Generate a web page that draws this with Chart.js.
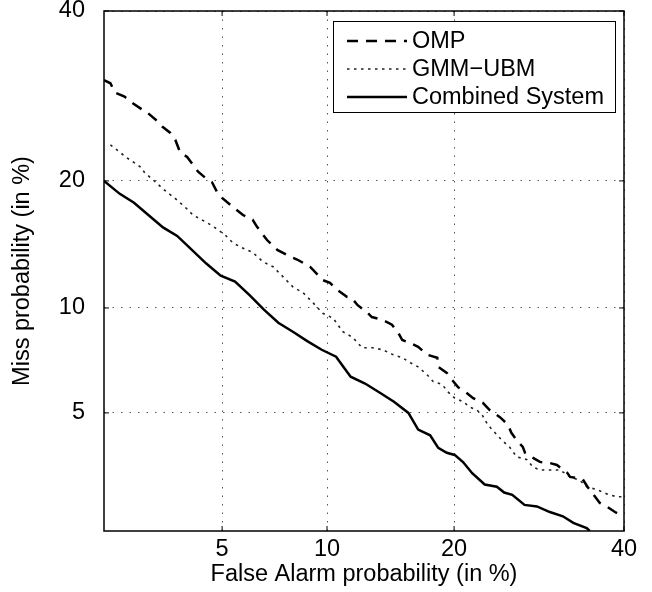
<!DOCTYPE html>
<html lang="en">
<head>
<meta charset="UTF-8">
<title>DET curves</title>
<style>
  body { margin: 0; background: #fff; }
  #det { display: block; }
</style>
<script src="https://cdn.jsdelivr.net/npm/chart.js"></script>
</head>
<body>
<canvas id="det" width="652" height="592"></canvas>
<script>
// tick values, in %
const xTicks = [5, 10, 20, 40];
const yTicks = [5, 10, 20, 40];

// OMP (dashed)
const ompFA = [2.0, 2.11, 2.19, 2.37, 2.52, 2.75, 2.86, 3.1, 3.2, 3.4, 3.54, 3.67, 3.87, 4.01, 4.2, 4.43, 4.65, 4.82, 4.99,
  5.4, 5.79, 6.19, 6.37, 6.82, 7.3, 7.93, 8.3, 9.0, 9.18, 9.74, 10.18, 10.62, 11.26, 11.58, 11.99, 12.65, 13.0, 13.81,
  14.53, 15.03, 15.36, 16.04, 16.7, 17.48, 18.41, 18.5, 19.3, 19.77, 20.4, 21.1, 21.9, 22.9, 23.6, 24.7, 25.6, 26.0,
  26.6, 27.3, 27.55, 28.7, 29.3, 30.5, 31.36, 32.64, 33.0, 34.6, 35.2, 36.8, 37.7, 38.8, 40.0];
const ompMiss = [31.1, 30.73, 29.6, 29.12, 28.4, 27.55, 27.2, 26.2, 25.67, 25.0, 24.2, 22.9, 22.4, 21.76, 20.9, 20.3, 19.87, 18.95, 18.41,
  17.57, 16.86, 16.45, 15.87, 14.77, 14.0, 13.5, 13.27, 12.74, 12.51, 11.8, 11.61, 11.15, 10.69, 10.62, 10.17, 9.74, 9.46, 9.29,
  9.02, 8.58, 8.19, 8.03, 7.84, 7.45, 7.3, 6.87, 6.6, 6.31, 5.98, 5.8, 5.55, 5.37, 5.11, 4.86, 4.6, 4.33,
  4.1, 3.9, 3.73, 3.56, 3.48, 3.45, 3.4, 3.2, 3.1, 3.04, 2.87, 2.52, 2.45, 2.34, 2.25];

// GMM-UBM (dotted)
const gmmFA = [2.11, 2.28, 2.42, 2.54, 2.69, 2.79, 2.98, 3.2, 3.33, 3.59, 3.9, 4.04, 4.49, 4.75, 5.1, 5.4, 5.75, 6.19, 6.64,
  7.1, 7.6, 8.08, 8.63, 9.18, 9.74, 10.37, 11.0, 11.65, 12.3, 13.07, 13.81, 14.61, 15.37, 16.04, 16.7, 17.48, 18.04,
  18.86, 19.4, 20.07, 20.9, 21.6, 22.27, 22.88, 23.4, 24.2, 24.94, 25.78, 26.6, 27.78, 28.47, 29.3, 31.75, 33.0,
  34.2, 35.1, 36.45, 37.7, 39.0, 40.0];
const gmmMiss = [23.67, 22.9, 22.3, 21.9, 21.4, 20.8, 20.1, 19.3, 18.9, 18.2, 17.3, 16.86, 16.2, 15.78, 15.2, 14.54, 14.17, 13.8, 13.1,
  12.74, 12.0, 11.34, 10.95, 10.31, 9.68, 9.4, 8.63, 8.33, 7.79, 7.79, 7.69, 7.45, 7.3, 7.06, 6.87, 6.52, 6.22,
  6.1, 5.8, 5.55, 5.41, 5.2, 5.11, 4.9, 4.6, 4.33, 4.1, 3.9, 3.62, 3.54, 3.35, 3.27, 3.27, 3.1,
  3.02, 2.87, 2.8, 2.71, 2.65, 2.65];

// Combined System (solid)
const combFA = [2.0, 2.28, 2.56, 2.87, 3.22, 3.59, 4.01, 4.46, 4.95, 5.48, 6.06, 6.68, 7.35, 8.08, 8.85, 9.68, 10.56, 11.51,
  12.51, 13.57, 14.69, 15.87, 16.7, 17.76, 18.5, 19.3, 20.06, 20.9, 21.8, 23.1, 24.4, 25.2, 26.1, 27.5, 28.95, 30.5,
  32.1, 33.4, 35.1, 35.5];
const combMiss = [20.0, 18.77, 17.95, 16.86, 15.8, 15.1, 14.0, 12.97, 12.1, 11.7, 10.8, 9.9, 9.13, 8.63, 8.13, 7.69, 7.35, 6.43,
  6.14, 5.77, 5.41, 5.0, 4.43, 4.25, 3.87, 3.73, 3.67, 3.47, 3.19, 2.92, 2.87, 2.74, 2.69, 2.48, 2.45, 2.34,
  2.26, 2.14, 2.05, 2.0];

const FONT = { family: "'Liberation Sans', Arial, Helvetica, sans-serif", size: 23.5 };

// inverse normal CDF (Acklam's approximation)
function probit(p) {
  const a = [-3.969683028665376e+01, 2.209460984245205e+02, -2.759285104469687e+02, 1.383577518672690e+02, -3.066479806614716e+01, 2.506628277459239e+00];
  const b = [-5.447609879822406e+01, 1.615858368580409e+02, -1.556989798598866e+02, 6.680131188771972e+01, -1.328068155288572e+01];
  const c = [-7.784894002430293e-03, -3.223964580411365e-01, -2.400758277161838e+00, -2.549732539343734e+00, 4.374664141464968e+00, 2.938163982698783e+00];
  const d = [7.784695709041462e-03, 3.224671290700398e-01, 2.445134137142996e+00, 3.754408661907416e+00];
  const pl = 0.02425;
  let q, r;
  if (p < pl) {
    q = Math.sqrt(-2 * Math.log(p));
    return (((((c[0]*q+c[1])*q+c[2])*q+c[3])*q+c[4])*q+c[5]) / ((((d[0]*q+d[1])*q+d[2])*q+d[3])*q+1);
  }
  if (p <= 1 - pl) {
    q = p - 0.5; r = q * q;
    return (((((a[0]*r+a[1])*r+a[2])*r+a[3])*r+a[4])*r+a[5])*q / (((((b[0]*r+b[1])*r+b[2])*r+b[3])*r+b[4])*r+1);
  }
  q = Math.sqrt(-2 * Math.log(1 - p));
  return -(((((c[0]*q+c[1])*q+c[2])*q+c[3])*q+c[4])*q+c[5]) / ((((d[0]*q+d[1])*q+d[2])*q+d[3])*q+1);
}

// normal CDF, for pixel -> value
function normCdf(z) {
  const t = 1 / (1 + 0.3275911 * Math.abs(z) / Math.SQRT2);
  const y = 1 - (((((1.061405429*t - 1.453152027)*t) + 1.421413741)*t - 0.284496736)*t + 0.254829592)*t * Math.exp(-z*z/2);
  return z >= 0 ? (1 + y) / 2 : (1 - y) / 2;
}

// normal deviate scale used by DET plots
class ProbitScale extends Chart.LinearScale {
  static id = 'probit';
  static defaults = {};
  buildTicks() {
    const list = this.axis === 'x' ? xTicks : yTicks;
    return list.map(v => ({ value: v }));
  }
  configure() {
    super.configure();
    this._pMin = probit(this.min / 100);
    this._pMax = probit(this.max / 100);
  }
  getPixelForValue(value) {
    return this.getPixelForDecimal((probit(value / 100) - this._pMin) / (this._pMax - this._pMin));
  }
  getValueForPixel(pixel) {
    const dec = this.getDecimalForPixel(pixel);
    return 100 * normCdf(this._pMin + dec * (this._pMax - this._pMin));
  }
}
Chart.register(ProbitScale);

// box around the axes + inward tick marks
const framePlugin = {
  id: 'frame',
  afterDatasetsDraw(chart) {
    const { ctx, chartArea: a, scales } = chart;
    ctx.save();
    ctx.strokeStyle = '#000';
    ctx.lineWidth = 1;
    ctx.setLineDash([]);
    ctx.beginPath();
    xTicks.forEach(v => {
      const px = scales.x.getPixelForValue(v);
      ctx.moveTo(px, a.bottom); ctx.lineTo(px, a.bottom - 5);
      ctx.moveTo(px, a.top); ctx.lineTo(px, a.top + 5);
    });
    yTicks.forEach(v => {
      const py = scales.y.getPixelForValue(v);
      ctx.moveTo(a.left, py); ctx.lineTo(a.left + 5, py);
      ctx.moveTo(a.right, py); ctx.lineTo(a.right - 5, py);
    });
    ctx.stroke();
    ctx.lineWidth = 1.5;
    ctx.strokeRect(a.left, a.top, a.right - a.left, a.bottom - a.top);
    ctx.restore();
  }
};

// MATLAB-like boxed legend in the top right corner
const legendPlugin = {
  id: 'boxLegend',
  afterDraw(chart) {
    const { ctx, chartArea: a } = chart;
    const w = 282, h = 91;
    const left = a.right - 9 - w, top = a.top + 10;
    ctx.save();
    ctx.fillStyle = '#fff';
    ctx.fillRect(left, top, w, h);
    ctx.strokeStyle = '#000';
    ctx.lineWidth = 1;
    ctx.setLineDash([]);
    ctx.strokeRect(left + 0.5, top + 0.5, w, h);
    ctx.font = FONT.size + 'px ' + FONT.family;
    ctx.textBaseline = 'middle';
    ctx.fillStyle = '#000';
    chart.data.datasets.forEach((ds, i) => {
      const y = top + 20 + i * 28;
      ctx.beginPath();
      ctx.setLineDash(ds.borderDash || []);
      ctx.lineWidth = ds.borderWidth;
      ctx.strokeStyle = ds.borderColor;
      ctx.moveTo(left + 14, y);
      ctx.lineTo(left + 74, y);
      ctx.stroke();
      ctx.setLineDash([]);
      ctx.fillText(ds.label, left + 79, y + 1);
    });
    ctx.restore();
  }
};

const pts = (xs, ys) => xs.map((x, i) => ({ x: x, y: ys[i] }));

function axisOptions(isX) {
  return {
    type: 'probit',
    min: 2,
    max: 40,
    afterFit: s => {
      if (isX) { s.height = 61; s.paddingLeft = 0; s.paddingRight = 0; }
      else { s.width = 104; s.paddingTop = 0; s.paddingBottom = 0; }
    },
    grid: { color: '#555', lineWidth: 1, drawTicks: false },
    border: { display: false, dash: [1.5, 7] },
    ticks: {
      font: FONT, color: '#000', autoSkip: false, maxRotation: 0,
      padding: isX ? 4 : 19,
      callback: v => String(v)
    },
    title: {
      display: true,
      text: isX ? 'False Alarm probability (in %)' : 'Miss probability (in %)',
      font: FONT, color: '#000',
      padding: isX ? { top: 0, bottom: 3 } : { top: 8, bottom: 0 }
    }
  };
}

new Chart(document.getElementById('det').getContext('2d'), {
  type: 'line',
  data: {
    datasets: [
      { label: 'OMP', data: pts(ompFA, ompMiss), borderColor: '#000', borderWidth: 2.5, borderDash: [11, 8] },
      { label: 'GMM\u2212UBM', data: pts(gmmFA, gmmMiss), borderColor: '#222', borderWidth: 1.6, borderDash: [2.5, 4.5] },
      { label: 'Combined System', data: pts(combFA, combMiss), borderColor: '#000', borderWidth: 2.5 }
    ]
  },
  options: {
    responsive: false,
    animation: false,
    parsing: false,
    layout: { padding: { top: 11, right: 28, left: 0, bottom: 0 } },
    elements: { point: { radius: 0 }, line: { tension: 0, fill: false } },
    plugins: { legend: { display: false }, tooltip: { enabled: false } },
    scales: { x: axisOptions(true), y: axisOptions(false) }
  },
  plugins: [framePlugin, legendPlugin]
});
</script>
</body>
</html>
